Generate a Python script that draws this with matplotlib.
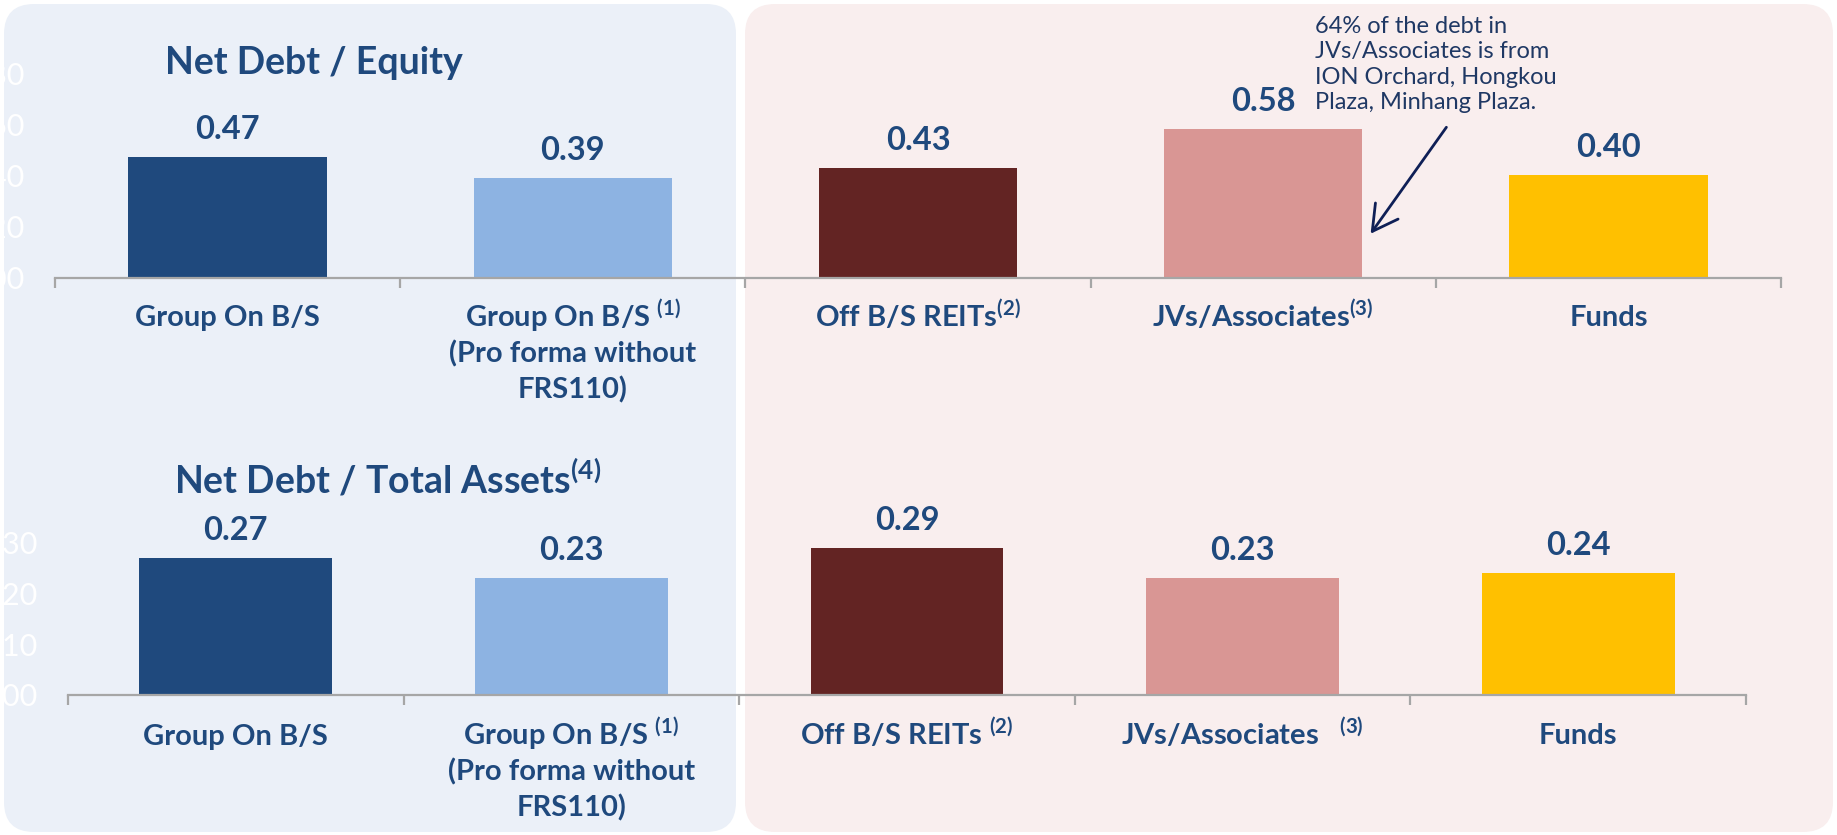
import matplotlib
matplotlib.use("Agg")
import matplotlib.pyplot as plt
from matplotlib.patches import FancyBboxPatch, FancyArrowPatch
import numpy as np

# ---- data -------------------------------------------------------------
categories_top = [
    "Group On B/S",
    "Group On B/S $^{(1)}$\n(Pro forma without\nFRS110)",
    "Off B/S REITs$^{(2)}$",
    "JVs/Associates$^{(3)}$",
    "Funds",
]
categories_bottom = [
    "Group On B/S",
    "Group On B/S $^{(1)}$\n(Pro forma without\nFRS110)",
    "Off B/S REITs $^{(2)}$",
    "JVs/Associates   $^{(3)}$",
    "Funds",
]
net_debt_equity = [0.47, 0.39, 0.43, 0.58, 0.40]
net_debt_assets = [0.27, 0.23, 0.29, 0.23, 0.24]
bar_colors = ["#1F497D", "#8DB3E2", "#632423", "#D99694", "#FFC000"]
equity_ticks = [0.0, 0.2, 0.4, 0.6, 0.8]
assets_ticks = [0.0, 0.1, 0.2, 0.3]

title_top = "Net Debt / Equity"
title_bottom = "Net Debt / Total Assets$^{(4)}$"
note_lines = ["64% of the debt in", "JVs/Associates is from",
              "ION Orchard, Hongkou", "Plaza, Minhang Plaza."]

# ---- style ------------------------------------------------------------
FONT = ["Lato", "DejaVu Sans"]
plt.rcParams["font.family"] = FONT
plt.rcParams["mathtext.fontset"] = "custom"
plt.rcParams["mathtext.rm"] = "Lato:bold"
plt.rcParams["mathtext.it"] = "Lato:bold"
plt.rcParams["mathtext.bf"] = "Lato:bold"
plt.rcParams["mathtext.default"] = "rm"

NAVY = "#1F497D"
AXIS_GREY = "#A6A6A6"

W, H = 1837, 835
fig = plt.figure(figsize=(W / 100, H / 100), dpi=100)
fig.patch.set_facecolor("white")

# background panels, drawn in pixel units
bg = fig.add_axes([0, 0, 1, 1], zorder=-10)
bg.set_xlim(0, W)
bg.set_ylim(H, 0)
bg.axis("off")
bg.add_patch(FancyBboxPatch((4, 4), 732, 828,
                            boxstyle="round,pad=0,rounding_size=30",
                            fc="#EBF0F8", ec="none"))
bg.add_patch(FancyBboxPatch((745, 4), 1088, 828,
                            boxstyle="round,pad=0,rounding_size=30",
                            fc="#F9EEEE", ec="none"))


def px_axes(x0, x1, y_base, y_top):
    """Axes placed by pixel edges (y measured from the top of the figure)."""
    return fig.add_axes([x0 / W, 1 - y_base / H, (x1 - x0) / W,
                         (y_base - y_top) / H])


def draw_panel(ax, values, labels, ticks, ymax, label_offset, line_step):
    x = np.arange(len(values))
    ax.bar(x, values, width=0.575, color=bar_colors, zorder=2)
    ax.set_xlim(-0.5, len(values) - 0.5)
    ax.set_ylim(0, ymax)
    ax.patch.set_alpha(0)
    for s in ("top", "right", "left"):
        ax.spines[s].set_visible(False)
    ax.spines["bottom"].set_color(AXIS_GREY)
    ax.spines["bottom"].set_linewidth(1.6)
    ax.set_xticks(x)
    ax.set_xticklabels([])
    ax.set_xticks(np.arange(-0.5, len(values), 1), minor=True)
    ax.tick_params(axis="x", which="major", length=0)
    ax.tick_params(axis="x", which="minor", length=7, width=1.6,
                   color=AXIS_GREY, direction="out")
    ax.set_yticks(ticks)
    ax.set_yticklabels([f"{t:.2f}" for t in ticks], color="white",
                       fontsize=22)
    ax.tick_params(axis="y", length=0, pad=22)
    for xi, v in zip(x, values):
        ax.annotate(f"{v:.2f}", xy=(xi, v), xytext=(0, 13),
                    textcoords="offset points", ha="center", va="baseline",
                    fontsize=23.5, fontweight="bold", color=NAVY,
                    annotation_clip=False)
    for xi, lab in zip(x, labels):
        for k, line in enumerate(lab.split("\n")):
            ax.annotate(line, xy=(xi, 0),
                        xytext=(0, -label_offset - k * line_step),
                        textcoords="offset points", ha="center",
                        va="baseline", fontsize=21, fontweight="bold",
                        color=NAVY, annotation_clip=False)


ax_top = px_axes(55, 1781, 277.7, 73.0)
draw_panel(ax_top, net_debt_equity, categories_top, equity_ticks, 0.8,
           35, 26)

ax_bot = px_axes(68, 1746, 694.5, 543.0)
draw_panel(ax_bot, net_debt_assets, categories_bottom, assets_ticks, 0.3,
           36, 26)

# panel titles
fig.text(314 / W, 1 - 74 / H, title_top, ha="center", va="baseline",
         fontsize=27, fontweight="bold", color=NAVY)
fig.text(388 / W, 1 - 494 / H, title_bottom, ha="center", va="baseline",
         fontsize=27, fontweight="bold", color=NAVY)

# call-out on the JVs/Associates bar
for k, line in enumerate(note_lines):
    fig.text(1315 / W, 1 - (33 + k * 25.3) / H, line, ha="left",
             va="baseline", fontsize=17, color="#1F3864")
bg.add_patch(FancyArrowPatch((1448, 125), (1369, 236),
                             arrowstyle="->,head_length=0.9,head_width=0.5",
                             mutation_scale=20, lw=2.0, color="#0F1F56"))

fig.savefig("out.png", dpi=100, facecolor=fig.get_facecolor())
